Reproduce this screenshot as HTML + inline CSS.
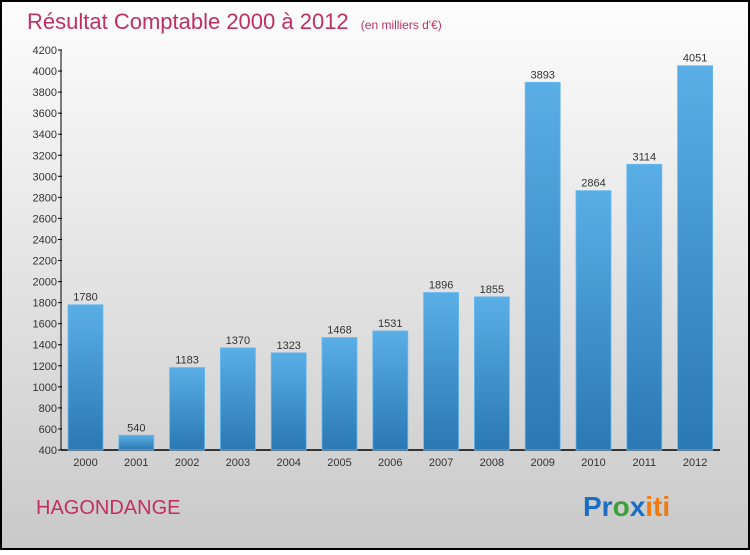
<!DOCTYPE html>
<html><head><meta charset="utf-8"><style>
body{margin:0;width:750px;height:550px;overflow:hidden;font-family:"Liberation Sans",sans-serif}
</style></head><body>
<svg width="750" height="550" xmlns="http://www.w3.org/2000/svg">
<defs>
<linearGradient id="bg" x1="0" y1="0" x2="0" y2="1"><stop offset="0" stop-color="#fdfdfd"/><stop offset="1" stop-color="#c9c9c9"/></linearGradient>
<linearGradient id="bar" x1="0" y1="0" x2="0" y2="1"><stop offset="0" stop-color="#5aaee6"/><stop offset="1" stop-color="#2a78b4"/></linearGradient>
</defs>
<rect x="1" y="1" width="748" height="548" fill="url(#bg)" stroke="#000" stroke-width="2"/>
<text x="27" y="29" font-size="22" fill="#c0305f">Résultat Comptable 2000 à 2012 <tspan font-size="12" dx="6">(en milliers d'€)</tspan></text>
<g id="axes"></g>
<g id="bars"></g>
<text x="36" y="514" font-size="20" fill="#c0305f">HAGONDANGE</text>
<text x="583" y="516" font-size="28" font-weight="bold"><tspan fill="#1a6fc4">Pr</tspan><tspan fill="#3aa03a">o</tspan><tspan fill="#1a6fc4">x</tspan><tspan fill="#f07a10">iti</tspan></text>
</svg>
<script>
const categories=["2000","2001","2002","2003","2004","2005","2006","2007","2008","2009","2010","2011","2012"];
const values=[1780,540,1183,1370,1323,1468,1531,1896,1855,3893,2864,3114,4051];
const ticks=[400,600,800,1000,1200,1400,1600,1800,2000,2200,2400,2600,2800,3000,3200,3400,3600,3800,4000,4200];
const NS="http://www.w3.org/2000/svg";
const y=v=>450-(v-400)*400/3800;
const x=i=>68+i*50.8;
function mk(t,a,p,txt){const e=document.createElementNS(NS,t);for(const k in a)e.setAttribute(k,a[k]);if(txt!=null)e.textContent=txt;p.appendChild(e);return e;}
const ax=document.getElementById('axes'),bg=document.getElementById('bars');
let l=mk('line',{x1:61,y1:50,x2:61,y2:450,stroke:'#000'},ax);


l=mk('line',{x1:61,y1:450,x2:720,y2:450,stroke:'#000','stroke-width':1.5},ax);


ticks.forEach(t=>{
 const tk=mk('line',{x1:58,y1:y(t),x2:62,y2:y(t),stroke:'#000'},ax);
 
 
 const tl=mk('text',{x:57,y:y(t)+4,'text-anchor':'end','font-size':11,fill:'#333'},ax,t);
 
 
});
categories.forEach((c,i)=>{
 const r=mk('rect',{x:x(i),y:y(values[i]),width:35,height:450-y(values[i]),fill:'url(#bar)',stroke:'#6ab8ee','stroke-width':0.8},bg);
 
 
 const v=mk('text',{x:x(i)+17.5,y:y(values[i])-4,'text-anchor':'middle','font-size':11,fill:'#333'},bg,values[i]);
 
 
 const xl=mk('text',{x:x(i)+17.5,y:466,'text-anchor':'middle','font-size':11,fill:'#333'},bg,c);
 
 
});
</script>
</body></html>
